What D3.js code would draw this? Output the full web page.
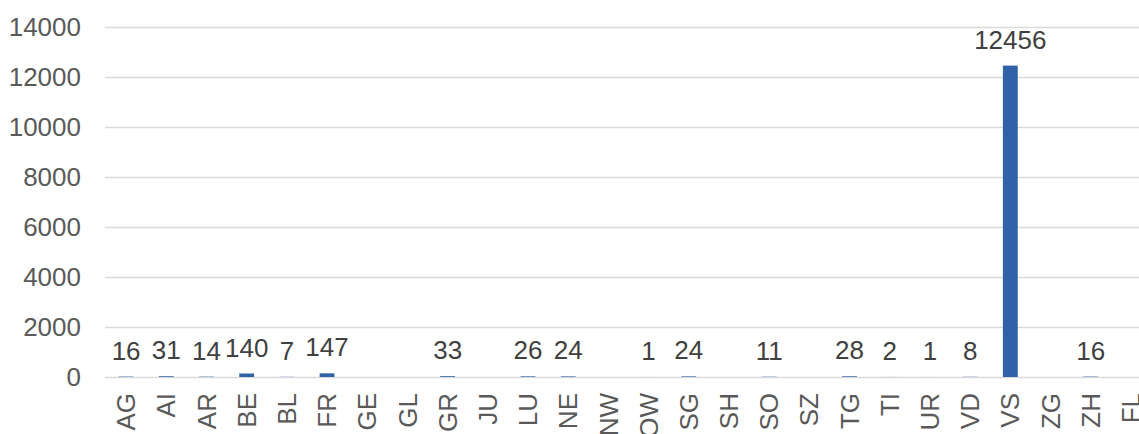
<!DOCTYPE html>
<html>
<head>
<meta charset="utf-8">
<script src="https://cdn.jsdelivr.net/npm/d3@7"></script>
<style>
  body { margin: 0; background: #fff; }
  svg { display: block; font-family: Arial, "Liberation Sans", sans-serif; }
</style>
</head>
<body>
<svg width="1139" height="434"></svg>
<script>
// cantons, values (null = no value shown)
var cantons = ["AG","AI","AR","BE","BL","FR","GE","GL","GR","JU","LU","NE","NW",
               "OW","SG","SH","SO","SZ","TG","TI","UR","VD","VS","ZG","ZH","FL"];
var counts = [16, 31, 14, 140, 7, 147, null, null, 33, null, 26, 24, null,
              1, 24, null, 11, null, 28, 2, 1, 8, 12456, null, 16, null];
var yTicks = [0, 2000, 4000, 6000, 8000, 10000, 12000, 14000];

var data = cantons.map(function(c, i) { return { name: c, value: counts[i] }; });

var svg = d3.select("svg");
var plotLeft = 106, plotRight = 1151, plotTop = 27, plotBottom = 377;

var x = d3.scaleBand()
    .domain(cantons)
    .range([plotLeft, plotRight])
    .paddingInner(0.63)
    .paddingOuter(0.315);

var y = d3.scaleLinear()
    .domain([0, 14000])
    .range([plotBottom, plotTop]);

// gridlines
svg.append("g")
    .selectAll("line")
    .data(yTicks)
    .enter().append("line")
    .attr("x1", plotLeft - 1)
    .attr("x2", 1139)
    .attr("y1", function(d) { return Math.round(y(d)) + 0.5; })
    .attr("y2", function(d) { return Math.round(y(d)) + 0.5; })
    .attr("stroke", "#d9d9d9")
    .attr("stroke-width", 1.3);

// y labels
svg.append("g")
    .selectAll("text")
    .data(yTicks)
    .enter().append("text")
    .attr("x", 81)
    .attr("y", function(d) { return y(d); })
    .attr("dy", "0.35em")
    .attr("text-anchor", "end")
    .attr("fill", "#595959")
    .style("font-size", "26px")
    .text(function(d) { return d; });

// bars
svg.append("g")
    .selectAll("rect")
    .data(data.filter(function(d) { return d.value != null; }))
    .enter().append("rect")
    .attr("x", function(d) { return x(d.name); })
    .attr("width", x.bandwidth())
    .attr("y", function(d) { return y(d.value); })
    .attr("height", function(d) { return plotBottom - y(d.value); })
    .attr("fill", "#3162a8");

// value labels
svg.append("g")
    .selectAll("text")
    .data(data.filter(function(d) { return d.value != null; }))
    .enter().append("text")
    .attr("x", function(d) { return x(d.name) + x.bandwidth() / 2; })
    .attr("y", function(d) { return y(d.value) - 17; })
    .attr("text-anchor", "middle")
    .attr("fill", "#404040")
    .style("font-size", "26px")
    .text(function(d) { return d.value; });

// x labels (rotated)
svg.append("g")
    .selectAll("text")
    .data(cantons)
    .enter().append("text")
    .attr("transform", function(d) {
        return "translate(" + (x(d) + x.bandwidth() / 2) + ",393) rotate(-90)";
    })
    .attr("dy", "0.35em")
    .attr("text-anchor", "end")
    .attr("fill", "#595959")
    .style("font-size", "26px")
    .text(function(d) { return d; });
</script>
</body>
</html>
